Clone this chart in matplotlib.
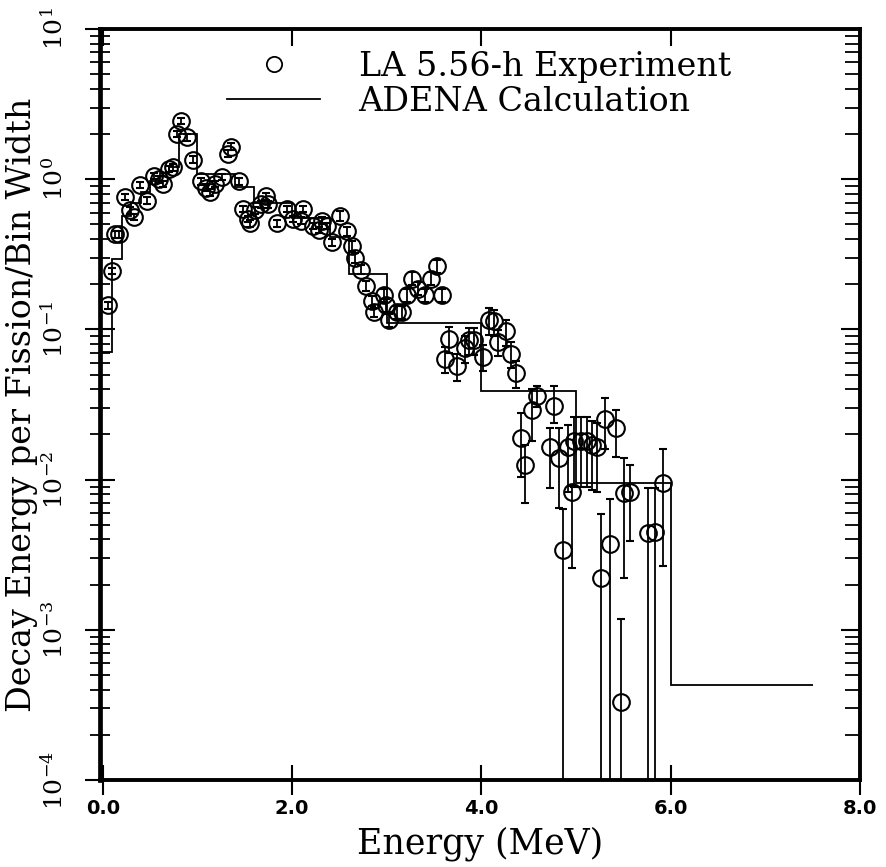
import matplotlib
matplotlib.use("Agg")
import matplotlib.pyplot as plt
from matplotlib.lines import Line2D
import numpy as np

plt.rcParams['font.family'] = ['DejaVu Serif']
plt.rcParams['mathtext.fontset'] = 'dejavuserif'

# ADENA calculation: bin edges (MeV) and value per bin
adena_edges = [-0.03, 0.1, 0.2, 0.3, 0.4, 0.5, 0.6, 0.7, 0.8, 1.0, 1.4, 1.6,
               2.0, 2.4, 2.6, 3.0, 4.0, 5.0, 6.0, 7.5]
adena_values = [0.071, 0.295, 0.57, 0.70, 0.82, 0.97, 1.10, 1.20, 2.0, 1.08,
                0.89, 0.69, 0.55, 0.41, 0.235, 0.11, 0.039, 0.0095, 0.00043]

# LA 5.56-h experiment (energy MeV, value, fractional low / high error)
exp_energy = [0.06, 0.10, 0.13, 0.17, 0.23, 0.29, 0.33, 0.39, 0.47, 0.54,
              0.59, 0.64, 0.70, 0.74, 0.78, 0.83, 0.89, 0.95, 1.04, 1.09,
              1.13, 1.19, 1.26, 1.32, 1.35, 1.44, 1.48, 1.53, 1.56, 1.61,
              1.67, 1.72, 1.75, 1.84, 1.95, 2.01, 2.09, 2.12, 2.22, 2.28,
              2.32, 2.37, 2.42, 2.51, 2.58, 2.63, 2.66, 2.73, 2.78, 2.84,
              2.87, 2.97, 2.99, 3.02, 3.11, 3.16, 3.21, 3.27, 3.33, 3.40,
              3.47, 3.53, 3.58, 3.62, 3.66, 3.74, 3.83, 3.87, 3.92, 4.02,
              4.08, 4.13, 4.18, 4.26, 4.31, 4.37, 4.42, 4.46, 4.54, 4.59,
              4.72, 4.77, 4.82, 4.86, 4.91, 4.96, 4.98, 5.05, 5.12, 5.17,
              5.22, 5.26, 5.31, 5.36, 5.42, 5.48, 5.51, 5.57, 5.76, 5.83,
              5.92]
exp_value = [0.145, 0.245, 0.43, 0.43, 0.76, 0.62, 0.56, 0.92, 0.72, 1.05,
             1.00, 0.93, 1.17, 1.20, 2.00, 2.45, 1.90, 1.35, 0.97, 0.88,
             0.82, 0.93, 1.04, 1.48, 1.65, 0.97, 0.635, 0.545, 0.51, 0.62,
             0.68, 0.77, 0.68, 0.51, 0.635, 0.545, 0.53, 0.635, 0.49, 0.46,
             0.53, 0.49, 0.38, 0.57, 0.45, 0.36, 0.30, 0.25, 0.195, 0.155,
             0.13, 0.17, 0.145, 0.115, 0.13, 0.13, 0.17, 0.218, 0.187, 0.17,
             0.218, 0.265, 0.17, 0.064, 0.087, 0.057, 0.075, 0.085, 0.085, 0.066,
             0.115, 0.113, 0.083, 0.097, 0.069, 0.051, 0.019, 0.0125, 0.029, 0.036,
             0.0165, 0.031, 0.014, 0.0034, 0.0165, 0.0083, 0.018, 0.018, 0.018, 0.017,
             0.0165, 0.0022, 0.0255, 0.0037, 0.022, 0.00033, 0.0082, 0.0083, 0.0044, 0.0045,
             0.0095]
exp_err_lo = [0.05] * 43 + [0.07] * 8 + [0.1] * 12 + [0.2] * 13 + \
             [0.45, 0.44, 0.38, 0.15, 0.47, 0.23, 0.54, 0.999, 0.5, 0.69,
              0.5, 0.5, 0.5, 0.5, 0.5, 0.999, 0.37, 0.999, 0.36, 0.999,
              0.73, 0.53, 0.999, 0.999, 0.72]
exp_err_hi = [0.05] * 43 + [0.07] * 8 + [0.1] * 12 + [0.2] * 13 + \
             [0.47, 0.36, 0.38, 0.17, 0.33, 0.35, 0.57, 0.88, 0.4, 0.1,
              0.45, 0.45, 0.45, 0.45, 0.45, 1.7, 0.37, 1.0, 0.32, 2.6,
              0.7, 0.5, 1.0, 0.95, 0.68]

xtick_vals = [0, 2, 4, 6, 8]
xtick_labels = ['0.0', '2.0', '4.0', '6.0', '8.0']
ytick_vals = [1e-4, 1e-3, 1e-2, 1e-1, 1e0, 1e1]
ytick_labels = [r'$\mathregular{10^{-4}}$', r'$\mathregular{10^{-3}}$',
                r'$\mathregular{10^{-2}}$', r'$\mathregular{10^{-1}}$',
                r'$\mathregular{10^{0}}$', r'$\mathregular{10^{1}}$']

fig = plt.figure(figsize=(8.87, 8.67), dpi=100)
ax = fig.add_axes([0.1127, 0.1003, 0.8568, 0.8662])

ax.stairs(adena_values, adena_edges, baseline=None, color='black', linewidth=1.3)

val = np.array(exp_value)
yerr = [val * np.array(exp_err_lo), val * np.array(exp_err_hi)]
ax.errorbar(exp_energy, exp_value, yerr=yerr, fmt='o', mfc='none', mec='black',
            ms=12, mew=1.5, ecolor='black', elinewidth=1.3, capsize=3, capthick=1.3)

ax.set_yscale('log')
ax.set_xlim(-0.03, 8.0)
ax.set_ylim(1e-4, 1e1)

ax.set_xticks(xtick_vals)
ax.set_xticklabels(xtick_labels, fontfamily='DejaVu Sans', fontweight='bold', fontsize=14)
ax.set_yticks(ytick_vals)
ax.set_yticklabels(ytick_labels, fontsize=18, rotation=90)
ax.tick_params(axis='x', direction='inout', length=22, width=1.5, pad=3)
ax.tick_params(axis='y', which='major', direction='inout', length=22, width=1.5, pad=12)
ax.tick_params(axis='y', which='minor', direction='inout', length=15, width=1.3)
for t in ax.get_yticklabels():
    t.set_verticalalignment('center')

for s in ax.spines.values():
    s.set_linewidth(2.8)
ax.spines['left'].set_linewidth(3.4)

ax.set_xlabel('Energy (MeV)', fontsize=25, labelpad=6)
ax.set_ylabel('Decay Energy per Fission/Bin Width', fontsize=24)
ax.yaxis.set_label_coords(-0.0816, 0.5)

# top and right inward ticks
ax_top = ax.twiny()
ax_top.set_xlim(ax.get_xlim())
ax_top.set_xticks(xtick_vals)
ax_top.set_xticklabels([])
ax_top.tick_params(direction='in', length=12, width=1.5)
ax_right = ax.twinx()
ax_right.set_yscale('log')
ax_right.set_ylim(1e-4, 1e1)
ax_right.set_yticks(ytick_vals)
ax_right.set_yticklabels([])
ax_right.tick_params(which='major', direction='in', length=14, width=1.5)
ax_right.tick_params(which='minor', direction='in', length=11, width=1.3)
ax_right.yaxis.set_minor_formatter(plt.NullFormatter())
for a in (ax_top, ax_right):
    for s in a.spines.values():
        s.set_visible(False)

handles = [Line2D([], [], marker='o', ls='none', mfc='none', mec='black', ms=11, mew=1.3),
           Line2D([], [], color='black', linewidth=1.3)]
ax.legend(handles, ['LA 5.56-h Experiment', 'ADENA Calculation'],
          loc='upper left', bbox_to_anchor=(0.167, 0.971), frameon=False,
          borderpad=0, borderaxespad=0, handlelength=2.8, handletextpad=1.15,
          labelspacing=0.1, prop={'family': 'DejaVu Serif', 'size': 24})

fig.savefig('out.png', dpi=100)
